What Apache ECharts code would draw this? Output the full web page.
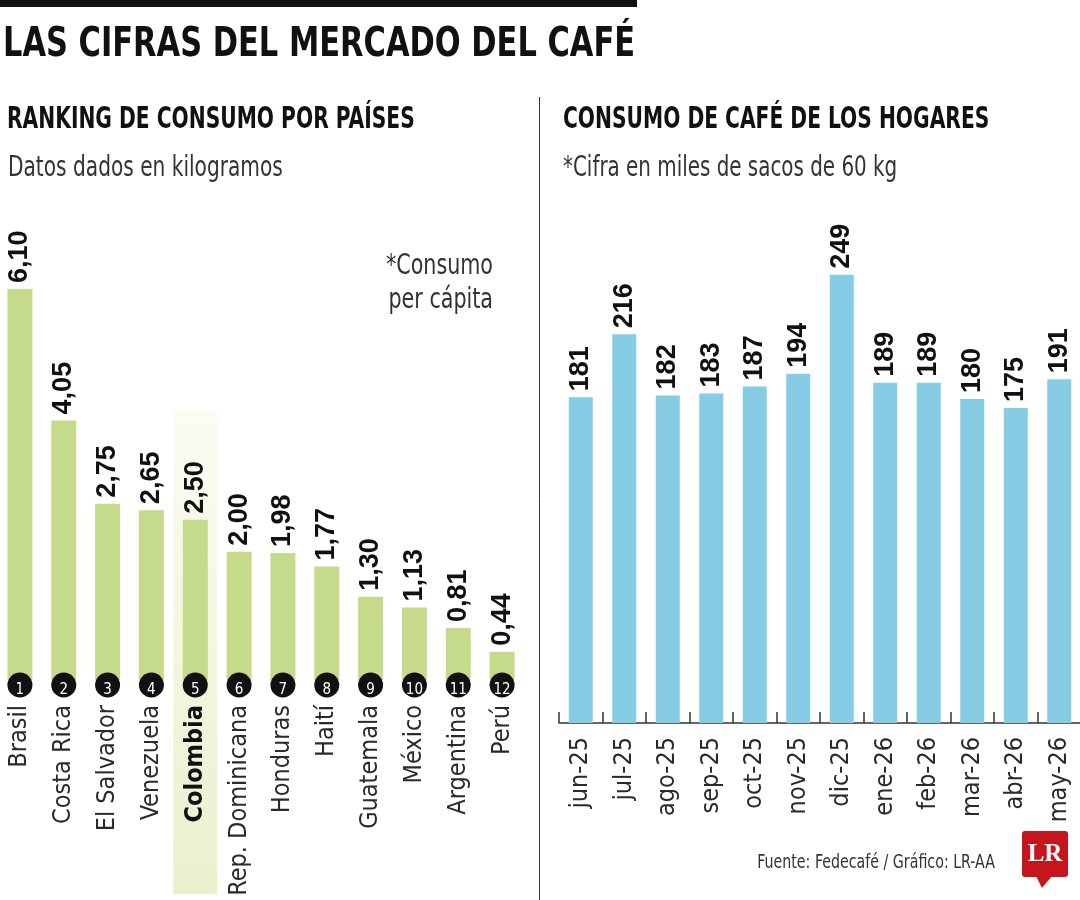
<!DOCTYPE html>
<html>
<head>
<meta charset="utf-8">
<script src="https://cdn.jsdelivr.net/npm/echarts@6/dist/echarts.min.js"></script>
<style>
html,body{margin:0;padding:0;background:#fff;}
#main{width:1080px;height:900px;}
</style>
</head>
<body>
<div id="main"></div>
<script>
// ---- data ----
var countries = ['Brasil','Costa Rica','El Salvador','Venezuela','Colombia','Rep. Dominicana','Honduras','Haití','Guatemala','México','Argentina','Perú'];
var consumo = [6.10,4.05,2.75,2.65,2.50,2.00,1.98,1.77,1.30,1.13,0.81,0.44];
var ranks = ['1','2','3','4','5','6','7','8','9','10','11','12'];
var highlightCountry = 'Colombia';
var months = ['jun-25','jul-25','ago-25','sep-25','oct-25','nov-25','dic-25','ene-26','feb-26','mar-26','abr-26','may-26'];
var hogares = [181,216,182,183,187,194,249,189,189,180,175,191];

var NARROW = "'DejaVu Sans Condensed','Liberation Sans Narrow',sans-serif";
var NUM = "'Liberation Sans','Arial',sans-serif";
var chart = echarts.init(document.getElementById('main'), null, {renderer:'canvas'});

function fmtComma(v){ return v.toFixed(2).replace('.', ','); }

var option = {
  backgroundColor: '#ffffff',
  animation: false,
  grid: [
    {left: -2, width: 526, top: 231.3, height: 448.7, outerBoundsMode: 'none', containLabel: false},
    {left: 559, width: 522, top: 183, height: 540, outerBoundsMode: 'none', containLabel: false}
  ],
  xAxis: [
    {
      type: 'category', gridIndex: 0, data: countries,
      axisLine: {show: false}, axisTick: {show: false},
      axisLabel: {
        rotate: 90, margin: 25, interval: 0,
        fontFamily: NARROW, fontSize: 25, color: '#2a2a2a',
        formatter: function(v){ return v === highlightCountry ? '{b|' + v + '}' : v; },
        rich: {b: {fontFamily: NARROW, fontSize: 25, fontWeight: 'bold', color: '#111'}}
      }
    },
    {
      type: 'category', gridIndex: 1, data: months,
      axisLine: {show: true, lineStyle: {color: '#333', width: 1.5}},
      axisTick: {show: true, inside: true, length: 11, lineStyle: {color: '#333', width: 1.5}},
      axisLabel: {rotate: 90, margin: 14, interval: 0, fontFamily: NARROW, fontSize: 25, color: '#2a2a2a'}
    }
  ],
  yAxis: [
    {type: 'value', gridIndex: 0, min: 0, max: 7, show: false, splitLine: {show: false}},
    {type: 'value', gridIndex: 1, min: 0, max: 300, show: false, splitLine: {show: false}}
  ],
  series: [
    {
      type: 'bar', xAxisIndex: 0, yAxisIndex: 0, data: consumo, barWidth: 25, z: 2,
      itemStyle: {color: '#c6da8b'},
      label: {
        show: true, position: 'top', rotate: 90, distance: 6,
        align: 'left', verticalAlign: 'middle',
        fontFamily: NUM, fontSize: 27, fontWeight: 'bold', color: '#111',
        formatter: function(p){ return fmtComma(p.value); }
      }
    },
    {
      type: 'scatter', xAxisIndex: 0, yAxisIndex: 0, z: 5,
      data: countries.map(function(c){ return [c, 0]; }),
      symbol: 'circle', symbolSize: 25, symbolOffset: [0, 5],
      itemStyle: {color: '#111', opacity: 1},
      label: {
        show: true, position: 'inside', offset: [0, 5],
        fontFamily: NARROW, fontSize: 15, color: '#fff',
        formatter: function(p){ return ranks[p.dataIndex]; }
      }
    },
    {
      type: 'bar', xAxisIndex: 1, yAxisIndex: 1, data: hogares, barWidth: 24, z: 2,
      itemStyle: {color: '#86cce4'},
      label: {
        show: true, position: 'top', rotate: 90, distance: 6,
        align: 'left', verticalAlign: 'middle',
        fontFamily: NUM, fontSize: 27, fontWeight: 'bold', color: '#111'
      }
    }
  ]
};
chart.setOption(option);

// Highlight band for Colombia, positioned from the category axis scale
var cx = chart.convertToPixel({xAxisIndex: 0}, highlightCountry);
var bandW = 526 / countries.length;

function txt(x, y, s, font, scale, align, fill){
  return {type: 'text', z: 10, x: x, y: y, scaleX: scale, scaleY: 1,
    style: {text: s, font: font, fill: fill || '#111', textAlign: align || 'left', textVerticalAlign: 'middle'}};
}

chart.setOption({
  graphic: [
    {type: 'rect', z: -10, silent: true,
      shape: {x: cx - bandW/2, y: 411, width: bandW, height: 483},
      style: {fill: new echarts.graphic.LinearGradient(0,0,0,1,[{offset:0,color:'#fbfcf2'},{offset:1,color:'#eaf0cd'}])}},
    {type: 'rect', z: 10, shape: {x: 0, y: 0, width: 637, height: 7}, style: {fill: '#111'}},
    txt(3, 46, 'LAS CIFRAS DEL MERCADO DEL CAFÉ', 'bold 40px ' + NARROW, 0.847),
    {type: 'line', z: 10, shape: {x1: 539.5, y1: 97, x2: 539.5, y2: 900}, style: {stroke: '#333', lineWidth: 1}},
    txt(7, 120, 'RANKING DE CONSUMO POR PAÍSES', 'bold 30px ' + NARROW, 0.75),
    txt(8, 169, 'Datos dados en kilogramos', '28px ' + NARROW, 0.8, 'left', '#333'),
    txt(563, 120, 'CONSUMO DE CAFÉ DE LOS HOGARES', 'bold 30px ' + NARROW, 0.75),
    txt(563, 169, '*Cifra en miles de sacos de 60 kg', '28px ' + NARROW, 0.79, 'left', '#333'),
    txt(493, 267, '*Consumo', '28px ' + NARROW, 0.82, 'right', '#333'),
    txt(493, 301, 'per cápita', '28px ' + NARROW, 0.82, 'right', '#333'),
    txt(995, 863, 'Fuente: Fedecafé / Gráfico: LR-AA', '20px ' + NARROW, 0.79, 'right', '#333'),
    {type: 'rect', z: 10, shape: {x: 1022, y: 831, width: 46, height: 46, r: 3}, style: {fill: '#c4161c'}},
    {type: 'polygon', z: 10, shape: {points: [[1036, 876], [1052, 876], [1042, 888]]}, style: {fill: '#c4161c'}},
    {type: 'text', z: 11, x: 1045, y: 855, style: {text: 'LR', font: 'bold 25px "Liberation Serif","DejaVu Serif",serif', fill: '#fff', textAlign: 'center', textVerticalAlign: 'middle'}}
  ]
});
</script>
</body>
</html>
